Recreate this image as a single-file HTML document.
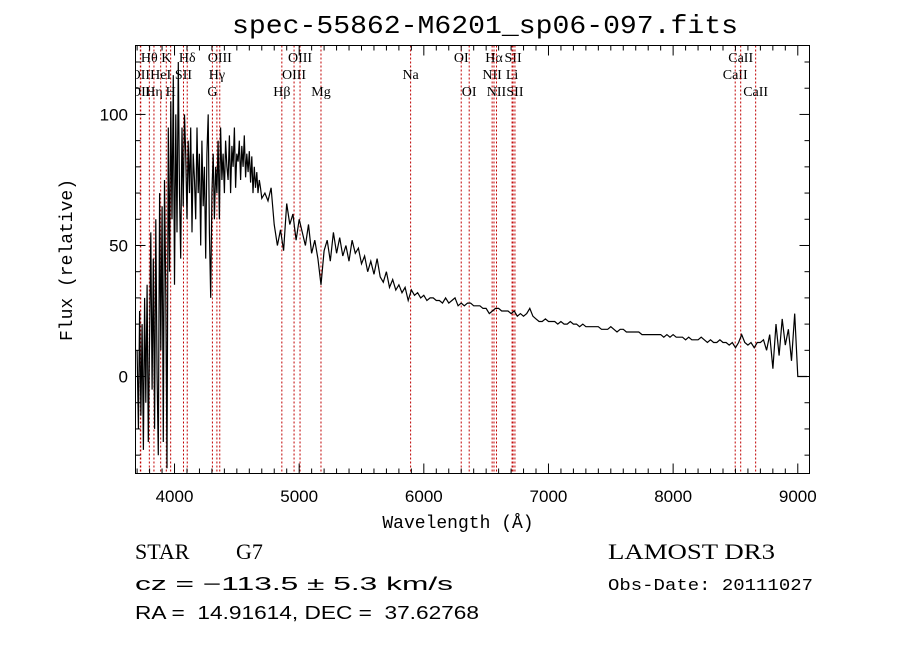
<!DOCTYPE html>
<html><head><meta charset="utf-8"><style>
body{margin:0;background:#fff;}
svg{display:block;}
text{white-space:pre;}
</style></head><body>
<svg id="chart" width="900" height="649" xmlns="http://www.w3.org/2000/svg" xml:space="preserve">
<defs><clipPath id="plotclip"><rect x="135.5" y="45.5" width="674" height="428"/></clipPath></defs>
<rect width="900" height="649" fill="#fff"/>
<text x="232" y="33" textLength="506" lengthAdjust="spacingAndGlyphs" font-family="Liberation Mono, monospace" font-size="26">spec-55862-M6201_sp06-097.fits</text>
<g id="lines" clip-path="url(#plotclip)"></g>
<g id="axes"></g>
<path id="spec" fill="none" stroke="#000" stroke-width="1.2" clip-path="url(#plotclip)"/>
<rect x="135.5" y="45.5" width="674" height="428" fill="none" stroke="#000" stroke-width="1"/>
<text x="458" y="528" text-anchor="middle" font-family="Liberation Mono, monospace" font-size="18">Wavelength (Å)</text>
<text transform="translate(72,341) rotate(-90)" textLength="162" lengthAdjust="spacingAndGlyphs" font-family="Liberation Mono, monospace" font-size="18">Flux (relative)</text>
<text x="135" y="559" font-family="Liberation Serif, serif" font-size="22">STAR</text>
<text x="236" y="559" font-family="Liberation Serif, serif" font-size="22">G7</text>
<text x="135" y="590" textLength="318" lengthAdjust="spacingAndGlyphs" font-family="Liberation Sans, sans-serif" font-size="18">cz = −113.5 ± 5.3 km/s</text>
<text x="135" y="619" textLength="344" lengthAdjust="spacingAndGlyphs" font-family="Liberation Sans, sans-serif" font-size="18">RA =  14.91614, DEC =  37.62768</text>
<text x="608" y="559" textLength="167" lengthAdjust="spacingAndGlyphs" font-family="Liberation Serif, serif" font-size="22">LAMOST DR3</text>
<text x="608" y="590" textLength="205" lengthAdjust="spacingAndGlyphs" font-family="Liberation Mono, monospace" font-size="17">Obs-Date: 20111027</text>
</svg>
<script>
const blueStart = 3700, blueStep = 10;
const blueFlux = [10,-20,25,-15,20,-28,30,-10,35,-25,15,
55,-5,45,-20,60,0,-30,70,10,65,
-25,75,30,-35,95,40,105,60,115,35,
100,55,120,70,45,95,65,100,85,60,
90,70,95,55,85,75,60,95,70,85,
50,90,65,80,45,85,100,55,30,70,
85,60,80,70,90,60,95,75,85,70,
90,80,75,92,70,88,80,95,72,85,
82,90,75,88,80,92,76,85,78,86,
74,84,70,80,72,78,70,75,72,68];
const redStart = 4725, redStep = 25;
const redFlux = [70,67,72,58,50,56, 48,66,58,62,52,60, 55,50,58,47,52,45, 35,48,52,44,55,47,
53,46,50,44,52,47, 49,43,46,40,44,39, 45,38,36,40,34,37, 33,35,32,34,29,33,
31,32,30,31,29,30, 30,29,29,28,30,28, 29,30,27,28,27,28, 28,27,27,27,26,26,
24,25,26,26,25,25, 25,24,25,23,24,23, 24,26,23,22,21,21, 22,21,21,21,20,21,
20,20,21,20,20,19, 20,19,19,19,19,19, 18,18,18,19,18,17, 18,18,17,17,17,17,
17,16,16,16,16,16, 16,16,15,16,15,16, 15,15,15,14,15,14, 14,14,15,14,13,14,
13,13,14,13,13,12, 13,11,13,16,13,12, 13,11,13,13,14,10, 16,3,20,8,22,12,
18,6,24,0,0,0, 0,0];
const lineWaves = [3726,3729,3798,3835,3889,3934,3969,4072,4102,4304,4340,4363,4861,4959,5007,5175,5894,6300,6364,6548,6563,6583,6708,6716,6731,8498,8542,8662];
const lineNames = ["OII","OII","Hθ","Hη","HeI","K","H","SII","Hδ","G","Hγ","OIII","Hβ","OIII","OIII","Mg","Na","OI","OI","NII","Hα","NII","Li","SII","SII","CaII","CaII","CaII"];
const lineRows = [1,2,0,2,1,0,2,1,0,2,1,0,2,1,0,2,1,0,2,1,0,2,1,0,2,1,0,2];
const xTicks = [4000,5000,6000,7000,8000,9000];
const yTicks = [0,50,100];

const X0=135.5,X1=809.5,Y0=45.5,Y1=473.5, XMIN=3687, XMAX=9094, YMIN=-37, YMAX=126.3;
const sx = w => X0 + (w-XMIN)/(XMAX-XMIN)*(X1-X0);
const sy = f => Y1 - (f-YMIN)/(YMAX-YMIN)*(Y1-Y0);
const NS="http://www.w3.org/2000/svg";
function mk(tag, attrs, parent){const e=document.createElementNS(NS,tag);for(const k in attrs)e.setAttribute(k,attrs[k]);parent.appendChild(e);return e;}

const lg=document.getElementById('lines');
lineWaves.forEach((w,i)=>{
  const l=mk('line',{x1:sx(w),x2:sx(w),y1:Y0,y2:Y1,stroke:'#c00000','stroke-width':1,'stroke-dasharray':'2,2'},lg);
  
  
  const t=mk('text',{x:sx(w),y:62+lineRows[i]*17,'text-anchor':'middle','font-family':'Liberation Serif, serif','font-size':14},lg);
  t.textContent=lineNames[i];
  
  
});

const ax=document.getElementById('axes');
for(let w=3700;w<=9000;w+=100){
  const major=w%1000===0, len=major?10:5;
  mk('line',{x1:sx(w),x2:sx(w),y1:Y1,y2:Y1-len,stroke:'#000'},ax);
  mk('line',{x1:sx(w),x2:sx(w),y1:Y0,y2:Y0+len,stroke:'#000'},ax);
}
xTicks.forEach(v=>{
  const t=mk('text',{x:sx(v),y:502,'text-anchor':'middle','font-family':'Liberation Sans, sans-serif','font-size':17},ax);
  t.textContent=v;
  
  
});
for(let f=-30;f<=120;f+=10){
  const major=f%50===0, len=major?10:5;
  mk('line',{x1:X0,x2:X0+len,y1:sy(f),y2:sy(f),stroke:'#000'},ax);
  mk('line',{x1:X1,x2:X1-len,y1:sy(f),y2:sy(f),stroke:'#000'},ax);
}
yTicks.forEach(v=>{
  const t=mk('text',{x:128,y:sy(v)+6,'text-anchor':'end','font-family':'Liberation Sans, sans-serif','font-size':17},ax);
  t.textContent=v;
  
  
});

let pts=[];
blueFlux.forEach((f,i)=>pts.push([blueStart+i*blueStep,f]));
redFlux.forEach((f,i)=>pts.push([redStart+i*redStep,f]));
pts=pts.filter(p=>p[0]<=XMAX);
document.getElementById('spec').setAttribute('d',pts.map((p,i)=>(i?'L':'M')+sx(p[0]).toFixed(1)+','+sy(p[1]).toFixed(1)).join(''));
</script>
</body></html>
